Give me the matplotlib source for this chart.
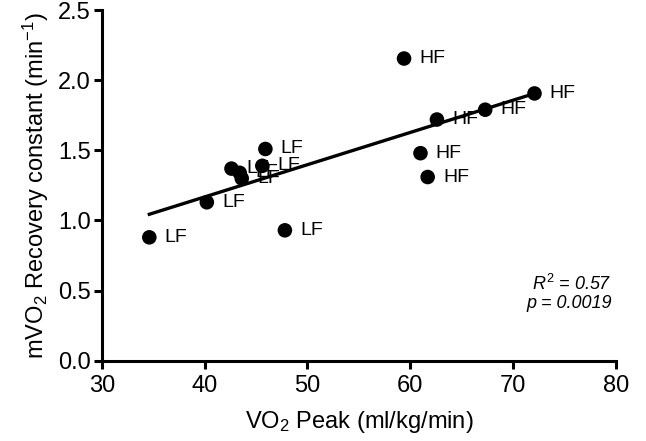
import matplotlib.pyplot as plt
import numpy as np

plt.rcParams['font.family'] = ['Liberation Sans', 'DejaVu Sans']
plt.rcParams['mathtext.fontset'] = 'custom'
plt.rcParams['mathtext.rm'] = 'Liberation Sans'
plt.rcParams['mathtext.it'] = 'Liberation Sans:italic'

# VO2 peak (ml/kg/min) and mVO2 recovery constant (min^-1)
lf_x = [34.6, 40.2, 47.8, 45.9, 45.6, 42.6, 43.4, 43.6]
lf_y = [0.88, 1.13, 0.93, 1.51, 1.39, 1.37, 1.34, 1.30]
hf_x = [59.4, 62.6, 67.3, 72.1, 61.0, 61.7]
hf_y = [2.155, 1.72, 1.79, 1.906, 1.48, 1.31]

r2_text = "$R^2$ = 0.57"
p_text = "p = 0.0019"

fig = plt.figure(figsize=(6.46, 4.41), dpi=100)
ax = fig.add_axes([0.158, 0.182, 0.795, 0.795])

all_x = np.array(lf_x + hf_x)
all_y = np.array(lf_y + hf_y)

# linear fit
k, b = np.polyfit(all_x, all_y, 1)
xf = np.array([all_x.min(), all_x.max()])
ax.plot(xf, k * xf + b, color='black', lw=2.4, zorder=2)

ax.scatter(all_x, all_y, s=110, color='black', zorder=3, edgecolors='none')

for x, y in zip(lf_x, lf_y):
    ax.annotate("LF", (x, y), xytext=(11, 0), textcoords='offset points',
                va='center', ha='left', fontsize=14)
for x, y in zip(hf_x, hf_y):
    ax.annotate("HF", (x, y), xytext=(11, 0), textcoords='offset points',
                va='center', ha='left', fontsize=14)

ax.text(79.6, 0.55, r2_text, ha='right', va='center', fontsize=13, style='italic')
ax.text(79.6, 0.41, p_text, ha='right', va='center', fontsize=13, style='italic')

ax.set_xlim(30, 80)
ax.set_ylim(0, 2.5)
ax.set_xticks([30, 40, 50, 60, 70, 80])
ax.set_yticks([0.0, 0.5, 1.0, 1.5, 2.0, 2.5])
ax.set_yticklabels(['0.0', '0.5', '1.0', '1.5', '2.0', '2.5'])

ax.spines['top'].set_visible(False)
ax.spines['right'].set_visible(False)
ax.spines['left'].set_linewidth(2.2)
ax.spines['bottom'].set_linewidth(2.2)
ax.tick_params(width=2.2, length=6, labelsize=17, direction='out', pad=2)
ax.tick_params(axis='x', pad=4)

ax.set_xlabel("VO$_2$ Peak (ml/kg/min)", fontsize=17, labelpad=9)
ax.set_ylabel("mVO$_2$ Recovery constant (min$^{-1}$)", fontsize=17, labelpad=5)

fig.savefig("out.png", dpi=100)
